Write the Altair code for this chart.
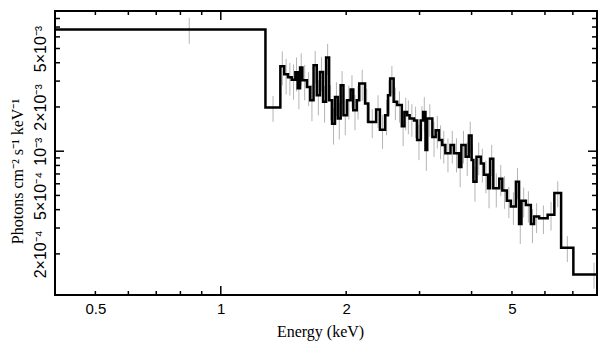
import altair as alt
import pandas as pd

# ---- data (energy bins in keV, flux in 1e-3 photons/cm2/s/keV)
bin_lo = [0.40, 1.28, 1.39, 1.42, 1.45, 1.48, 1.51, 1.53, 1.55, 1.57,
          1.61, 1.64, 1.67, 1.70, 1.73, 1.76, 1.79, 1.82, 1.85, 1.88,
          1.91, 1.94, 1.97, 2.01, 2.05, 2.08, 2.12, 2.15, 2.22, 2.26,
          2.36, 2.41, 2.48, 2.52, 2.55, 2.60, 2.65, 2.72, 2.76, 2.80,
          2.84, 2.91, 2.96, 3.02, 3.06, 3.10, 3.13, 3.22, 3.28, 3.34,
          3.40, 3.46, 3.56, 3.63, 3.73, 3.78, 3.87, 3.94, 4.00, 4.04,
          4.11, 4.21, 4.28, 4.38, 4.43, 4.51, 4.66, 4.74, 4.86, 4.97,
          5.11, 5.20, 5.27, 5.40, 5.55, 5.65, 5.81, 6.09, 6.32, 6.56,
          7.02]
last_bin_hi = 8.72
flux_1e3 = [6.73, 1.98, 3.79, 3.34, 3.19, 3.07, 3.45, 2.68, 3.71, 3.04,
            2.74, 2.22, 3.85, 2.40, 3.46, 2.17, 4.34, 2.22, 1.54, 2.34,
            1.67, 2.81, 1.76, 2.22, 2.63, 1.90, 2.22, 2.89, 2.11, 1.58,
            1.92, 1.40, 1.76, 2.40, 3.12, 2.17, 2.06, 1.48, 1.85, 1.76,
            1.67, 1.62, 1.19, 1.62, 1.85, 1.02, 1.67, 1.25, 1.39, 1.19,
            1.10, 0.97, 1.10, 0.97, 0.78, 1.10, 0.915, 1.28, 0.87, 0.62,
            0.915, 0.825, 0.69, 0.56, 0.89, 0.56, 0.65, 0.54, 0.46, 0.42,
            0.62, 0.32, 0.46, 0.43, 0.32, 0.36, 0.35, 0.37, 0.52, 0.22,
            0.145]
rel_err = [0.20, 0.20, 0.26, 0.27, 0.25, 0.27, 0.26, 0.28, 0.25, 0.27,
           0.26, 0.28, 0.25, 0.27, 0.26, 0.28, 0.24, 0.27, 0.28, 0.26,
           0.28, 0.25, 0.27, 0.26, 0.25, 0.27, 0.26, 0.24, 0.26, 0.22,
           0.25, 0.26, 0.27, 0.26, 0.22, 0.25, 0.24, 0.27, 0.25, 0.26,
           0.25, 0.24, 0.27, 0.25, 0.26, 0.28, 0.25, 0.27, 0.25, 0.26,
           0.25, 0.26, 0.25, 0.26, 0.27, 0.25, 0.26, 0.24, 0.26, 0.27,
           0.25, 0.26, 0.25, 0.27, 0.24, 0.26, 0.24, 0.25, 0.24, 0.25,
           0.24, 0.27, 0.23, 0.24, 0.26, 0.23, 0.22, 0.22, 0.20, 0.20,
           0.20]

x_tick_values = [0.5, 1, 2, 5]
x_tick_labels = ["0.5", "1", "2", "5"]
y_tick_values = [2e-4, 5e-4, 1e-3, 2e-3, 5e-3]
y_tick_labels = ["2×10⁻⁴", "5×10⁻⁴", "10⁻³", "2×10⁻³", "5×10⁻³"]
x_minor = [0.5, 0.6, 0.7, 0.8, 0.9, 2, 3, 4, 5, 6, 7]
x_major = [1]
y_minor = [2e-4, 3e-4, 4e-4, 5e-4, 6e-4, 7e-4, 8e-4, 9e-4,
           2e-3, 3e-3, 4e-3, 5e-3, 6e-3, 7e-3, 8e-3, 9e-3]
y_major = [1e-3]

# ---- tables
bin_hi = bin_lo[1:] + [last_bin_hi]
step_rows, err_rows = [], []
for i, (lo, hi, f, e) in enumerate(zip(bin_lo, bin_hi, flux_1e3, rel_err)):
    v = f * 1e-3
    step_rows.append({"i": 2 * i, "E": lo, "F": v})
    step_rows.append({"i": 2 * i + 1, "E": hi, "F": v})
    err_rows.append({"E": (lo + hi) / 2, "lo": v * (1 - e), "hi": v * (1 + e)})
step_df = pd.DataFrame(step_rows)
err_df = pd.DataFrame(err_rows)


def label_expr(values, labels):
    parts = [f"abs(datum.value - {v}) < {v * 0.01} ? '{l}'" for v, l in zip(values, labels)]
    return " : ".join(parts) + " : ''"


W, H = 542, 284
xs = alt.Scale(type="log", domain=[0.4, 8.0], nice=False)
ys = alt.Scale(type="log", domain=[1.05e-4, 9.0e-3], nice=False)

x_axis = alt.Axis(values=x_tick_values, labelExpr=label_expr(x_tick_values, x_tick_labels),
                  ticks=False, tickSize=0, domain=False, grid=False,
                  labelFont="Liberation Sans", labelFontSize=15, labelColor="black",
                  labelPadding=18, labelBaseline="alphabetic", labelFlush=False, labelOverlap=False,
                  title="Energy (keV)", titleFont="Liberation Serif", titleFontSize=16,
                  titleFontWeight="normal", titleColor="black", titleX=265, titleY=41,
                  titleBaseline="alphabetic", titleAlign="center")
y_axis = alt.Axis(values=y_tick_values, labelExpr=label_expr(y_tick_values, y_tick_labels),
                  ticks=False, tickSize=0, domain=False, grid=False,
                  labelFont="Liberation Sans", labelFontSize=16, labelColor="black",
                  labelAngle=270, labelAlign="center", labelBaseline="alphabetic",
                  labelPadding=10, labelFlush=False, labelOverlap=False,
                  title="Photons cm⁻² s⁻¹ keV⁻¹", titleFont="Liberation Serif", titleFontSize=16,
                  titleFontWeight="normal", titleColor="black", titleAngle=270,
                  titleX=-33, titleY=160, titleBaseline="alphabetic", titleAlign="center")

errbars = alt.Chart(err_df).mark_rule(color="#b4b4b4", strokeWidth=1, clip=True).encode(
    x=alt.X("E:Q", scale=xs, axis=x_axis),
    y=alt.Y("lo:Q", scale=ys, axis=y_axis),
    y2="hi:Q",
)

step = alt.Chart(step_df).mark_line(color="black", strokeWidth=2.5, clip=True,
                                    strokeJoin="miter", strokeCap="butt").encode(
    x=alt.X("E:Q", scale=xs, axis=x_axis),
    y=alt.Y("F:Q", scale=ys, axis=y_axis),
    order="i:Q",
)


def xticks(vals, y0, y1):
    return alt.Chart(pd.DataFrame({"v": vals})).mark_rule(color="black", strokeWidth=1.5).encode(
        x=alt.X("v:Q", scale=xs, axis=x_axis), y=alt.value(y0), y2=alt.value(y1))


def yticks(vals, x0, x1):
    return alt.Chart(pd.DataFrame({"v": vals})).mark_rule(color="black", strokeWidth=1.5).encode(
        y=alt.Y("v:Q", scale=ys, axis=y_axis), x=alt.value(x0), x2=alt.value(x1))


layers = [
    errbars, step,
    xticks(x_minor, H, H - 4), xticks(x_major, H, H - 9),
    xticks(x_minor, 0, 4), xticks(x_major, 0, 9),
    yticks(y_minor, 0, 5), yticks(y_major, 0, 9),
    yticks(y_minor, W, W - 5), yticks(y_major, W, W - 9),
]

chart = alt.layer(*layers).properties(
    width=W, height=H,
    autosize=alt.AutoSizeParams(type="none"),
    padding={"left": 55, "top": 11, "right": 12, "bottom": 62},
    background="white",
).configure_view(stroke="black", strokeWidth=2, fill="white")

chart.save("out.html", embed_options={"renderer": "svg", "actions": False})
